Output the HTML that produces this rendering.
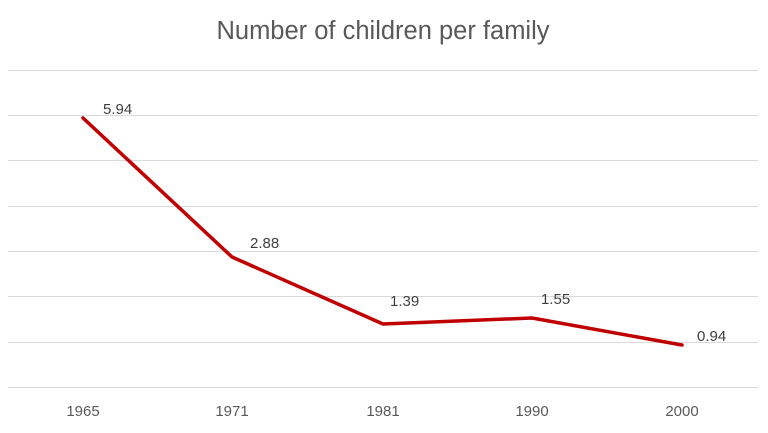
<!DOCTYPE html>
<html><head><meta charset="utf-8"><style>body{margin:0;background:#fff}svg{display:block}</style></head>
<body>
<svg width="768" height="433" xmlns="http://www.w3.org/2000/svg" font-family="Liberation Sans, sans-serif">
<rect width="768" height="433" fill="#fff"/>
<text x="383" y="39" text-anchor="middle" font-size="25.5" fill="#595959">Number of children per family</text>
<g stroke="#d9d9d9" stroke-width="1">
<line x1="8" x2="758" y1="70.5" y2="70.5"/>
<line x1="8" x2="758" y1="115.5" y2="115.5"/>
<line x1="8" x2="758" y1="160.5" y2="160.5"/>
<line x1="8" x2="758" y1="206.5" y2="206.5"/>
<line x1="8" x2="758" y1="251.5" y2="251.5"/>
<line x1="8" x2="758" y1="296.5" y2="296.5"/>
<line x1="8" x2="758" y1="342.5" y2="342.5"/>
<line x1="8" x2="758" y1="387.5" y2="387.5"/>
</g>
<polyline points="83,118 232,257 383,324 532,318 682,345" fill="none" stroke="#c00000" stroke-width="3.5" stroke-linejoin="round" stroke-linecap="round"/>
<g font-size="15" fill="#404040">
<text x="103" y="114">5.94</text>
<text x="250" y="248">2.88</text>
<text x="390" y="306">1.39</text>
<text x="541" y="304">1.55</text>
<text x="697" y="341">0.94</text>
</g>
<g font-size="15" fill="#595959" text-anchor="middle">
<text x="83" y="416">1965</text>
<text x="232" y="416">1971</text>
<text x="383" y="416">1981</text>
<text x="532" y="416">1990</text>
<text x="682" y="416">2000</text>
</g>
</svg>
</body></html>
